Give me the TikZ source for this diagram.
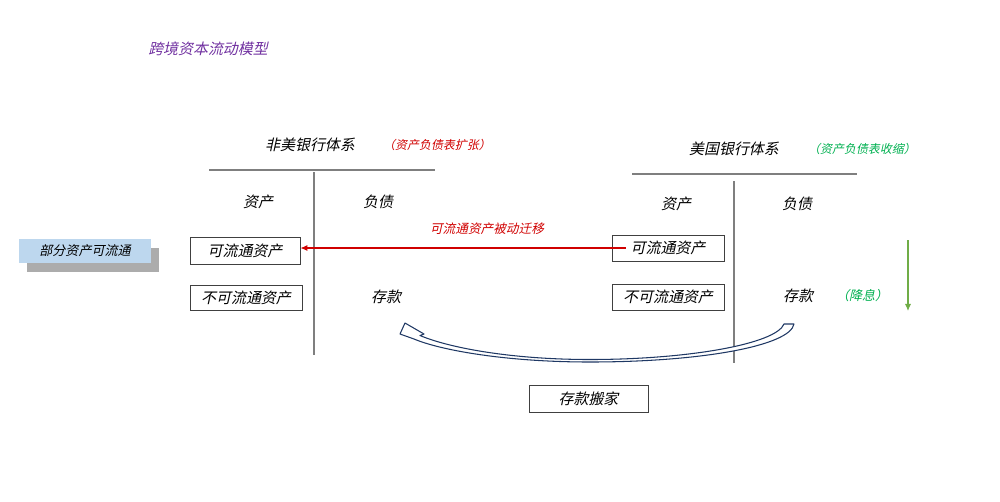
\documentclass[tikz,border=0pt]{standalone}
\usepackage{fontspec}
\newfontfamily\cjk[FakeSlant=0.22]{Noto Sans CJK SC}
\usetikzlibrary{arrows.meta}
\definecolor{titlepurple}{HTML}{7030A0}
\definecolor{expandred}{HTML}{D00000}
\definecolor{shrinkgreen}{HTML}{00B050}
\definecolor{dropgreen}{HTML}{70AD47}
\definecolor{linegray}{HTML}{7F7F7F}
\definecolor{boxgray}{HTML}{404040}
\definecolor{flowblue}{HTML}{BDD7EE}
\definecolor{arcnavy}{HTML}{1F3864}
\tikzset{
  txt/.style={inner sep=0pt, font=\cjk\fontsize{8.5}{10}\selectfont},
  note/.style={inner sep=0pt, font=\cjk\fontsize{6.8}{8}\selectfont},
  itembox/.style={draw=boxgray, line width=0.5pt, inner sep=0pt, font=\cjk\fontsize{8.5}{10}\selectfont},
  tline/.style={draw=linegray, line width=0.8pt}
}
\begin{document}
\begin{tikzpicture}[x=0.02cm, y=-0.02cm]
    \useasboundingbox (0,0) rectangle (1000,501);
    \node[txt, text=titlepurple] (title) at (208,49){跨境资本流动模型};
    % non-US banks
    \node[txt] (nonus) at (310,145){非美银行体系};
    \node[note, text=expandred] (nonusnote) at (437,145){（资产负债表扩张）};
    \draw[tline] (209,170) -- (435,170);
    \draw[tline] (314,172) -- (314,355);
    \node[txt] (nonasset) at (258,202){资产};
    \node[txt] (nondebt) at (378,202){负债};
    \node[itembox, text width=110*0.02cm, align=center, minimum height=27*0.02cm] (nonliq) at (245,250.5){可流通资产};
    \node[itembox, text width=112*0.02cm, align=center, minimum height=25*0.02cm] (nonfix) at (246,297.5){不可流通资产};
    \node[txt] (nondep) at (386,297){存款};
    % partly liquid
    \fill[gray!65] (27,248) rectangle (159,272);
    \node[fill=flowblue, inner sep=0pt, minimum width=132*0.02cm, minimum height=24*0.02cm,
          font=\cjk\fontsize{7.4}{9}\selectfont] (part) at (85,251){部分资产可流通};
    % US banks
    \node[txt] (us) at (734,149){美国银行体系};
    \node[note, text=shrinkgreen] (usnote) at (862,149){（资产负债表收缩）};
    \draw[tline] (632,174) -- (857,174);
    \draw[tline] (734,181) -- (734,363);
    \node[txt] (usasset) at (676,204){资产};
    \node[txt] (usdebt) at (797,204){负债};
    \node[itembox, text width=112*0.02cm, align=center, minimum height=26*0.02cm] (usliq) at (668,248){可流通资产};
    \node[itembox, text width=112*0.02cm, align=center, minimum height=26*0.02cm] (usfix) at (668,297){不可流通资产};
    \node[txt] (usdep) at (798,296){存款};
    \node[note, font=\cjk\fontsize{7.4}{9}\selectfont, text=shrinkgreen] (cut) at (862,296){（降息）};
    % passive move
    \draw[expandred, line width=0.6pt, -{Latex[length=4pt,width=3.5pt]}] ([xshift=14*0.02cm]usliq.west) -- (nonliq.east |- usliq.west);
    \node[note, font=\cjk\fontsize{7.2}{9}\selectfont, text=expandred] (movelbl) at (487,229){可流通资产被动迁移};
    \coordinate (droptop) at (908,240);
    \coordinate (dropend) at (908,311);
    \draw[dropgreen, line width=0.6pt, -{Latex[length=4pt,width=3.5pt]}] (droptop) -- (dropend);
    % deposits move
    \draw[arcnavy, line width=0.6pt, fill=white, line join=round]
      (794,324) .. controls (790,346) and (700,362) .. (590,362)
      .. controls (505,362) and (440,350) .. (414,339)
      -- (400,334) -- (405,323) -- (424,334) -- (420,335.5)
      .. controls (447,347) and (508,359.5) .. (590,359.5)
      .. controls (688,359.5) and (776,344) .. (784,324) -- cycle;
    \node[itembox, text width=119*0.02cm, align=center, minimum height=27*0.02cm] (move) at (588.5,398.5){存款搬家};
\end{tikzpicture}
\end{document}
